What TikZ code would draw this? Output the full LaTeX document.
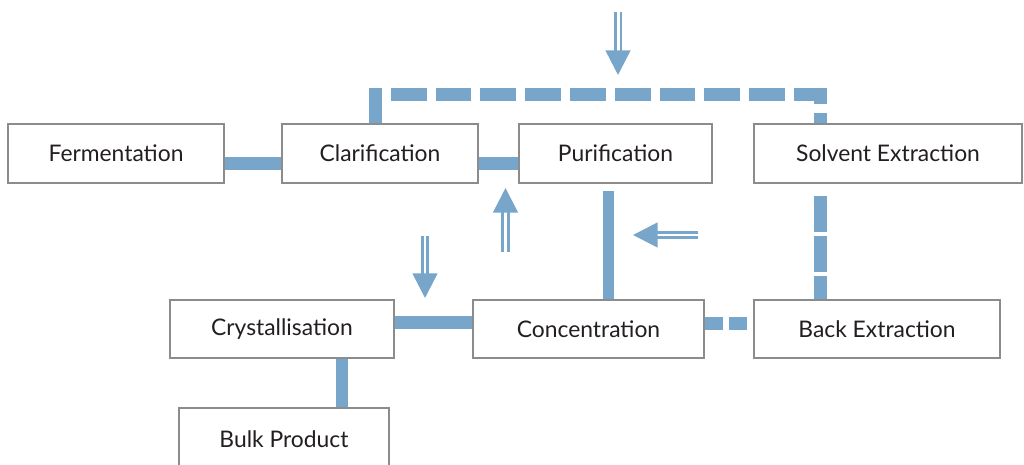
\documentclass[tikz,border=0pt]{standalone}
\usepackage{fontspec}
\setmainfont{Lato}
\usetikzlibrary{arrows.meta, positioning, calc, backgrounds}
\definecolor{pipeblue}{RGB}{120,165,202}
\definecolor{boxgray}{RGB}{140,140,140}
\definecolor{textdark}{RGB}{35,31,32}

\tikzset{
  stage/.style={draw=boxgray, line width=1.1pt, fill=white, text=textdark,
    font=\fontsize{13}{15}\selectfont, inner sep=0pt},
  pipe/.style={pipeblue, line width=7.4pt, line cap=butt, line join=miter},
  feed/.style={pipeblue, double=white, double distance=1.7pt, line width=1.5pt,
    -{Triangle[length=14pt, width=14pt]}},
}

\begin{document}
\begin{tikzpicture}[x=0.02cm, y=-0.02cm]
    \clip (0,0) rectangle (1024,465);
    % process stages
    \node[stage, minimum width=4.32cm, minimum height=1.18cm] (ferm) at (116,153.5) {Fermentation};
    \node[stage, minimum width=3.92cm, minimum height=1.18cm] (clar) at (380,153.5) {Clarification};
    \node[stage, minimum width=3.86cm, minimum height=1.18cm] (puri) at (615.5,153.5) {Purification};
    \node[stage, minimum width=5.36cm, minimum height=1.18cm] (solv) at (888,153.5) {Solvent Extraction};
    \node[stage, minimum width=4.48cm, minimum height=1.16cm] (cryst) at (282,329) {Crystallisation};
    \node[stage, minimum width=4.62cm, minimum height=1.16cm] (conc) at (588.5,329) {Concentration};
    \node[stage, minimum width=4.92cm, minimum height=1.16cm] (back) at (877,329) {Back Extraction};
    \node[stage, minimum width=4.2cm, minimum height=1.24cm] (bulk) at (284,439) {Bulk Product};
    % pipes
    \begin{scope}[on background layer]
    \draw[pipe] ($(ferm.east)+(0,10)$) -- ($(clar.west)+(0,10)$);
    \draw[pipe] ($(clar.east)+(0,10)$) -- ($(puri.west)+(0,10)$);
    \draw[pipe, dash pattern=on 20.4pt off 5.1pt] ($(clar.north)+(-5,0)$) -- ++(0,-29) -| ($(solv.north)+(-68,0)$);
    \draw[pipe, line width=6.2pt] ($(conc.north)+(20,0)$) -- ($(puri.south)+(-7,7)$);
    \draw[pipe, dash pattern=on 20.4pt off 2.3pt] ($(solv.south)+(-68,12)$) -- ($(back.north)+(-57,0)$);
    \draw[pipe] ($(cryst.east)+(0,-6)$) -- ($(conc.west)+(0,-6)$);
    \draw[pipe, dash pattern=on 10.2pt off 3.4pt] ($(conc.east)+(0,-5)$) -- ($(back.west)+(0,-5)$);
    \draw[pipe, line width=6.8pt] ($(cryst.south)+(60,0)$) -- ($(bulk.north)+(58,0)$);
    \end{scope}
    % feed arrows
    \draw[feed] (618,12) -- (618,75);
    \draw[feed] (505.5,252) -- (505.5,188);
    \draw[feed] (698,235) -- (633,235);
    \draw[feed] (425,236) -- (425,298);
\end{tikzpicture}
\end{document}
